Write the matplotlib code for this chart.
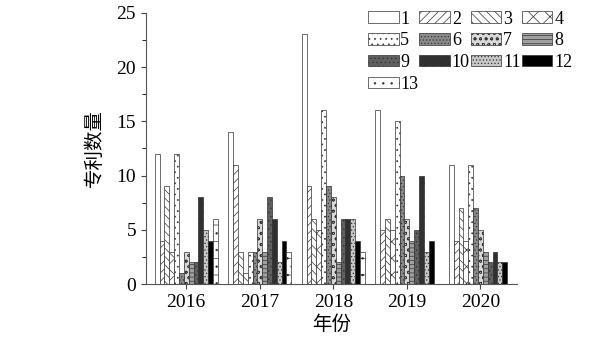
import matplotlib
matplotlib.use('Agg')
import matplotlib.pyplot as plt
from matplotlib.ticker import MultipleLocator
import numpy as np

plt.rcParams['font.family'] = ['Liberation Serif', 'Noto Sans CJK SC']
plt.rcParams['hatch.linewidth'] = 0.5

years = ['2016', '2017', '2018', '2019', '2020']
series_names = ['1', '2', '3', '4', '5', '6', '7', '8', '9', '10', '11', '12', '13']

# patent counts per series, one list per series (2016..2020)
s1 = [12, 14, 23, 16, 11]
s2 = [4, 11, 9, 5, 4]
s3 = [9, 3, 6, 6, 7]
s4 = [3, 1, 5, 5, 4]
s5 = [12, 3, 16, 15, 11]
s6 = [1, 3, 9, 10, 7]
s7 = [3, 6, 8, 6, 5]
s8 = [2, 3, 2, 4, 3]
s9 = [2, 8, 6, 5, 2]
s10 = [8, 6, 6, 10, 3]
s11 = [5, 2, 6, 3, 2]
s12 = [4, 4, 4, 4, 2]
s13 = [6, 3, 3, 0, 0]
all_series = [s1, s2, s3, s4, s5, s6, s7, s8, s9, s10, s11, s12, s13]

# face colour / hatch for each series
styles = [
    ('white', None),
    ('white', '////'),
    ('white', '\\\\\\\\'),
    ('white', 'xx'),
    ('white', '...'),
    ('#8a8a8a', '.....'),
    ('#d8d8d8', 'ooo'),
    ('#a0a0a0', '----'),
    ('#606060', '....'),
    ('#303030', 'xxxx'),
    ('#c8c8c8', '.....'),
    ('black', None),
    ('white', '-..'),
]

fig = plt.figure(figsize=(6, 3.44), dpi=100)
ax = fig.add_axes([0.243, 0.174, 0.619, 0.789])

x = np.arange(len(years))
n = len(all_series)
w = 0.066
bars = []
for i, vals in enumerate(all_series):
    fc, h = styles[i]
    b = ax.bar(x + (i - (n - 1) / 2) * w, vals, w, color=fc, hatch=h,
               edgecolor='#333333', linewidth=0.5, label=series_names[i])
    bars.append(b)

ax.set_xlim(-0.55, 4.5)
ax.set_ylim(0, 25)
ax.set_xticks(x)
ax.set_xticklabels(years)
ax.yaxis.set_major_locator(MultipleLocator(5))
ax.yaxis.set_minor_locator(MultipleLocator(2.5))
ax.tick_params(axis='both', direction='out', labelsize=14, color='#444444')
ax.tick_params(axis='y', which='minor', length=3)
for sp in ['top', 'right']:
    ax.spines[sp].set_visible(False)
for sp in ['left', 'bottom']:
    ax.spines[sp].set_color('#555555')

ax.set_ylabel('专利数量', fontsize=14, family=['Noto Sans CJK SC'], labelpad=8)
ax.set_xlabel('年份', fontsize=14, family=['Noto Sans CJK SC'], labelpad=2)

# legend is filled column by column, reorder so it reads row by row
order = [0, 4, 8, 12, 1, 5, 9, 2, 6, 10, 3, 7, 11]
leg = ax.legend([bars[k] for k in order], [series_names[k] for k in order],
                ncol=4, loc='upper left', bbox_to_anchor=(0.592, 1.006),
                bbox_transform=fig.transFigure, frameon=False, fontsize=13,
                handlelength=1.7, handleheight=0.6, handletextpad=0.1,
                columnspacing=0.05, labelspacing=0.26, borderpad=0.2)

fig.savefig('out.png', dpi=100)
